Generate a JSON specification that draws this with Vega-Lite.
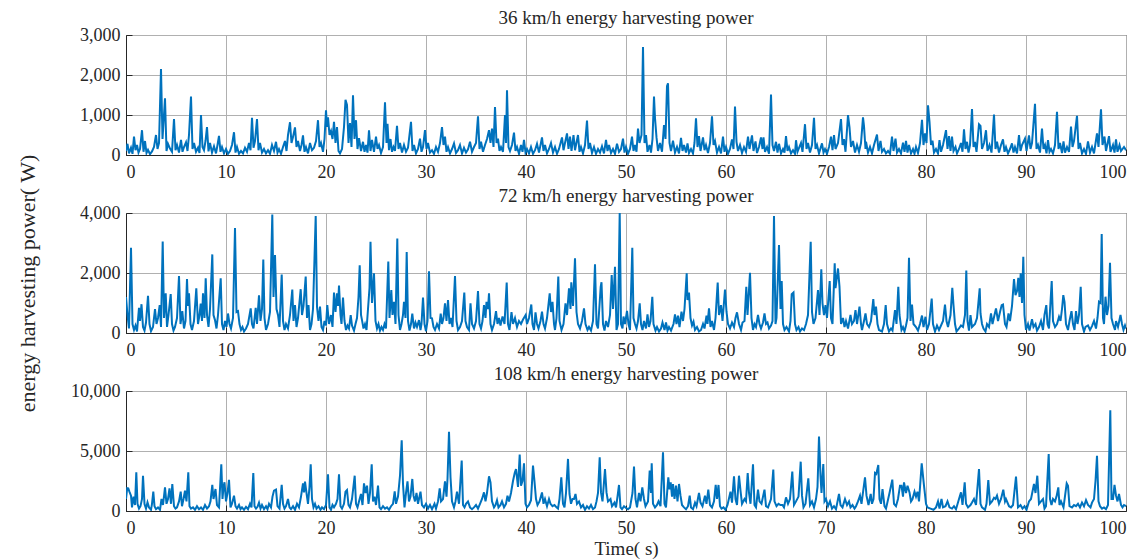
{
"$schema": "https://vega.github.io/schema/vega-lite/v6.json",
"background": "white",
"padding": {"left": 16, "top": 8, "right": 3, "bottom": 3},
"spacing": 58,
"bounds": "flush",
"title": {"text": "energy harvesting power( W)", "orient": "left", "anchor": "middle", "fontSize": 22, "offset": 30, "font": "Liberation Serif", "fontWeight": "normal", "color": "#262626"},
"config": {
"font": "Liberation Serif",
"view": {"stroke": "#262626", "strokeWidth": 1},
"axis": {"labelFont": "Liberation Serif", "labelFontSize": 18, "labelColor": "#262626", "titleFont": "Liberation Serif", "titleFontWeight": "normal", "titleColor": "#262626", "gridColor": "#b0b0b0", "gridWidth": 1, "domainColor": "#262626", "tickColor": "#262626", "tickSize": -6, "labelPadding": 12},
"axisX": {"labelPadding": 14},
"title": {"font": "Liberation Serif", "fontSize": 19, "fontWeight": "normal", "color": "#262626", "offset": -2}
},
"datasets": {
"p36": [
{"t":0,"p":100},{"t":0.15,"p":280},{"t":0.3,"p":40},{"t":0.5,"p":180},{"t":0.65,"p":30},{"t":0.8,"p":460},{"t":0.95,"p":120},{"t":1.1,"p":250},{"t":1.25,"p":60},{"t":1.4,"p":150},{"t":1.6,"p":620},{"t":1.75,"p":80},{"t":1.9,"p":350},{"t":2.05,"p":50},{"t":2.2,"p":130},{"t":2.4,"p":20},{"t":2.6,"p":90},{"t":2.8,"p":200},{"t":3.0,"p":500},{"t":3.15,"p":150},{"t":3.3,"p":300},{"t":3.5,"p":2150},{"t":3.65,"p":400},{"t":3.9,"p":1420},{"t":4.05,"p":100},{"t":4.2,"p":280},{"t":4.4,"p":160},{"t":4.6,"p":80},{"t":4.8,"p":900},{"t":4.95,"p":120},{"t":5.1,"p":250},{"t":5.3,"p":60},{"t":5.5,"p":380},{"t":5.65,"p":80},{"t":5.8,"p":200},{"t":6.0,"p":320},{"t":6.15,"p":100},{"t":6.3,"p":500},{"t":6.5,"p":1460},{"t":6.65,"p":150},{"t":6.8,"p":300},{"t":7.0,"p":80},{"t":7.2,"p":180},{"t":7.35,"p":50},{"t":7.5,"p":1000},{"t":7.65,"p":200},{"t":7.8,"p":120},{"t":7.95,"p":350},{"t":8.1,"p":700},{"t":8.25,"p":90},{"t":8.4,"p":300},{"t":8.6,"p":60},{"t":8.8,"p":220},{"t":9.0,"p":40},{"t":9.15,"p":250},{"t":9.3,"p":480},{"t":9.45,"p":80},{"t":9.6,"p":200},{"t":9.8,"p":40},{"t":10.0,"p":150},{"t":10.2,"p":30},{"t":10.4,"p":100},{"t":10.6,"p":250},{"t":10.8,"p":570},{"t":10.95,"p":60},{"t":11.1,"p":200},{"t":11.3,"p":30},{"t":11.5,"p":100},{"t":11.7,"p":40},{"t":11.9,"p":180},{"t":12.1,"p":80},{"t":12.3,"p":300},{"t":12.45,"p":120},{"t":12.6,"p":930},{"t":12.75,"p":180},{"t":12.9,"p":350},{"t":13.1,"p":900},{"t":13.25,"p":120},{"t":13.4,"p":300},{"t":13.6,"p":60},{"t":13.8,"p":150},{"t":14.0,"p":40},{"t":14.2,"p":120},{"t":14.4,"p":30},{"t":14.6,"p":250},{"t":14.8,"p":100},{"t":15.0,"p":330},{"t":15.15,"p":60},{"t":15.3,"p":150},{"t":15.5,"p":30},{"t":15.7,"p":200},{"t":15.9,"p":350},{"t":16.05,"p":100},{"t":16.2,"p":500},{"t":16.4,"p":820},{"t":16.55,"p":300},{"t":16.7,"p":450},{"t":16.9,"p":690},{"t":17.05,"p":200},{"t":17.2,"p":350},{"t":17.4,"p":100},{"t":17.55,"p":250},{"t":17.7,"p":490},{"t":17.85,"p":80},{"t":18.0,"p":200},{"t":18.2,"p":40},{"t":18.4,"p":300},{"t":18.6,"p":120},{"t":18.8,"p":180},{"t":19.0,"p":350},{"t":19.2,"p":870},{"t":19.35,"p":200},{"t":19.5,"p":300},{"t":19.7,"p":80},{"t":19.85,"p":400},{"t":20.0,"p":1120},{"t":20.1,"p":700},{"t":20.2,"p":940},{"t":20.35,"p":500},{"t":20.5,"p":600},{"t":20.65,"p":400},{"t":20.8,"p":830},{"t":20.95,"p":300},{"t":21.1,"p":700},{"t":21.25,"p":100},{"t":21.4,"p":40},{"t":21.6,"p":150},{"t":21.8,"p":700},{"t":21.95,"p":1380},{"t":22.1,"p":1250},{"t":22.25,"p":300},{"t":22.4,"p":800},{"t":22.55,"p":200},{"t":22.7,"p":1490},{"t":22.85,"p":400},{"t":23.0,"p":870},{"t":23.15,"p":150},{"t":23.3,"p":420},{"t":23.5,"p":100},{"t":23.7,"p":330},{"t":23.85,"p":80},{"t":24.0,"p":250},{"t":24.15,"p":60},{"t":24.3,"p":620},{"t":24.45,"p":100},{"t":24.6,"p":380},{"t":24.8,"p":80},{"t":25.0,"p":460},{"t":25.15,"p":150},{"t":25.3,"p":250},{"t":25.5,"p":50},{"t":25.7,"p":200},{"t":25.9,"p":1320},{"t":26.05,"p":300},{"t":26.15,"p":780},{"t":26.3,"p":120},{"t":26.45,"p":400},{"t":26.6,"p":80},{"t":26.75,"p":200},{"t":26.9,"p":100},{"t":27.1,"p":730},{"t":27.25,"p":150},{"t":27.4,"p":300},{"t":27.6,"p":60},{"t":27.8,"p":250},{"t":28.0,"p":80},{"t":28.2,"p":180},{"t":28.5,"p":830},{"t":28.65,"p":100},{"t":28.8,"p":250},{"t":29.0,"p":40},{"t":29.2,"p":150},{"t":29.4,"p":410},{"t":29.55,"p":80},{"t":29.7,"p":200},{"t":29.9,"p":620},{"t":30.05,"p":150},{"t":30.2,"p":300},{"t":30.4,"p":60},{"t":30.6,"p":120},{"t":30.8,"p":30},{"t":31.0,"p":200},{"t":31.2,"p":80},{"t":31.4,"p":300},{"t":31.6,"p":700},{"t":31.75,"p":250},{"t":31.9,"p":460},{"t":32.05,"p":80},{"t":32.2,"p":200},{"t":32.4,"p":40},{"t":32.6,"p":150},{"t":32.8,"p":290},{"t":33.0,"p":50},{"t":33.2,"p":120},{"t":33.4,"p":250},{"t":33.6,"p":40},{"t":33.8,"p":180},{"t":34.0,"p":60},{"t":34.2,"p":140},{"t":34.4,"p":330},{"t":34.6,"p":80},{"t":34.8,"p":200},{"t":35.0,"p":300},{"t":35.2,"p":970},{"t":35.35,"p":150},{"t":35.5,"p":330},{"t":35.7,"p":80},{"t":35.9,"p":250},{"t":36.1,"p":400},{"t":36.3,"p":620},{"t":36.45,"p":300},{"t":36.6,"p":660},{"t":36.75,"p":200},{"t":36.9,"p":1200},{"t":37.05,"p":300},{"t":37.2,"p":410},{"t":37.35,"p":100},{"t":37.5,"p":200},{"t":37.7,"p":80},{"t":37.9,"p":1000},{"t":38.0,"p":300},{"t":38.1,"p":1620},{"t":38.25,"p":200},{"t":38.4,"p":100},{"t":38.6,"p":250},{"t":38.8,"p":560},{"t":38.95,"p":100},{"t":39.1,"p":200},{"t":39.3,"p":30},{"t":39.5,"p":250},{"t":39.65,"p":80},{"t":39.8,"p":380},{"t":39.95,"p":60},{"t":40.1,"p":150},{"t":40.3,"p":40},{"t":40.5,"p":200},{"t":40.7,"p":30},{"t":40.9,"p":120},{"t":41.1,"p":280},{"t":41.3,"p":60},{"t":41.6,"p":440},{"t":41.75,"p":100},{"t":41.9,"p":250},{"t":42.1,"p":40},{"t":42.3,"p":150},{"t":42.5,"p":300},{"t":42.7,"p":60},{"t":42.9,"p":200},{"t":43.1,"p":30},{"t":43.3,"p":150},{"t":43.6,"p":440},{"t":43.75,"p":120},{"t":43.9,"p":300},{"t":44.1,"p":540},{"t":44.25,"p":150},{"t":44.4,"p":460},{"t":44.55,"p":100},{"t":44.75,"p":500},{"t":44.9,"p":120},{"t":45.0,"p":250},{"t":45.2,"p":500},{"t":45.35,"p":80},{"t":45.5,"p":200},{"t":45.7,"p":40},{"t":45.9,"p":250},{"t":46.1,"p":860},{"t":46.25,"p":150},{"t":46.4,"p":300},{"t":46.6,"p":50},{"t":46.8,"p":200},{"t":47.0,"p":30},{"t":47.2,"p":150},{"t":47.4,"p":60},{"t":47.6,"p":220},{"t":47.8,"p":40},{"t":48.0,"p":380},{"t":48.15,"p":100},{"t":48.3,"p":250},{"t":48.5,"p":50},{"t":48.7,"p":150},{"t":48.9,"p":30},{"t":49.1,"p":280},{"t":49.3,"p":80},{"t":49.5,"p":150},{"t":49.7,"p":410},{"t":49.85,"p":60},{"t":50.0,"p":200},{"t":50.2,"p":30},{"t":50.4,"p":150},{"t":50.6,"p":460},{"t":50.75,"p":100},{"t":50.9,"p":250},{"t":51.05,"p":80},{"t":51.2,"p":660},{"t":51.35,"p":300},{"t":51.55,"p":500},{"t":51.7,"p":2700},{"t":51.85,"p":300},{"t":52.0,"p":500},{"t":52.15,"p":80},{"t":52.35,"p":250},{"t":52.5,"p":60},{"t":52.65,"p":400},{"t":52.8,"p":1460},{"t":52.9,"p":920},{"t":53.05,"p":440},{"t":53.2,"p":100},{"t":53.4,"p":300},{"t":53.6,"p":80},{"t":53.8,"p":750},{"t":53.95,"p":400},{"t":54.1,"p":1720},{"t":54.2,"p":1790},{"t":54.35,"p":300},{"t":54.5,"p":100},{"t":54.7,"p":360},{"t":54.9,"p":60},{"t":55.1,"p":200},{"t":55.3,"p":40},{"t":55.5,"p":430},{"t":55.65,"p":100},{"t":55.8,"p":250},{"t":56.0,"p":60},{"t":56.15,"p":290},{"t":56.3,"p":50},{"t":56.5,"p":150},{"t":56.7,"p":40},{"t":56.85,"p":300},{"t":57.0,"p":920},{"t":57.15,"p":200},{"t":57.3,"p":470},{"t":57.45,"p":100},{"t":57.7,"p":440},{"t":57.85,"p":120},{"t":58.0,"p":250},{"t":58.2,"p":50},{"t":58.4,"p":300},{"t":58.6,"p":970},{"t":58.75,"p":250},{"t":58.9,"p":350},{"t":59.1,"p":60},{"t":59.3,"p":200},{"t":59.5,"p":40},{"t":59.7,"p":460},{"t":59.85,"p":80},{"t":60.0,"p":200},{"t":60.2,"p":30},{"t":60.4,"p":150},{"t":60.6,"p":390},{"t":60.75,"p":150},{"t":60.9,"p":1210},{"t":61.05,"p":330},{"t":61.2,"p":100},{"t":61.4,"p":250},{"t":61.6,"p":50},{"t":61.8,"p":200},{"t":62.0,"p":80},{"t":62.2,"p":460},{"t":62.35,"p":150},{"t":62.6,"p":490},{"t":62.75,"p":100},{"t":62.95,"p":340},{"t":63.1,"p":50},{"t":63.3,"p":200},{"t":63.5,"p":440},{"t":63.65,"p":150},{"t":63.75,"p":440},{"t":63.9,"p":80},{"t":64.1,"p":200},{"t":64.3,"p":30},{"t":64.5,"p":1510},{"t":64.65,"p":250},{"t":64.8,"p":100},{"t":65.0,"p":330},{"t":65.15,"p":60},{"t":65.3,"p":280},{"t":65.5,"p":40},{"t":65.7,"p":150},{"t":65.85,"p":60},{"t":66.0,"p":470},{"t":66.15,"p":100},{"t":66.3,"p":200},{"t":66.5,"p":40},{"t":66.7,"p":120},{"t":66.9,"p":30},{"t":67.0,"p":370},{"t":67.15,"p":80},{"t":67.5,"p":300},{"t":67.65,"p":80},{"t":67.9,"p":770},{"t":68.05,"p":150},{"t":68.2,"p":300},{"t":68.4,"p":60},{"t":68.6,"p":250},{"t":68.8,"p":930},{"t":68.95,"p":150},{"t":69.1,"p":250},{"t":69.3,"p":40},{"t":69.6,"p":290},{"t":69.75,"p":60},{"t":69.9,"p":150},{"t":70.1,"p":30},{"t":70.3,"p":200},{"t":70.5,"p":460},{"t":70.65,"p":120},{"t":70.8,"p":500},{"t":70.95,"p":150},{"t":71.2,"p":300},{"t":71.5,"p":900},{"t":71.65,"p":250},{"t":71.8,"p":400},{"t":71.95,"p":80},{"t":72.2,"p":1000},{"t":72.35,"p":690},{"t":72.5,"p":200},{"t":72.7,"p":350},{"t":72.9,"p":60},{"t":73.1,"p":250},{"t":73.3,"p":80},{"t":73.5,"p":300},{"t":73.7,"p":940},{"t":73.8,"p":720},{"t":73.95,"p":150},{"t":74.0,"p":330},{"t":74.2,"p":60},{"t":74.4,"p":200},{"t":74.6,"p":40},{"t":74.8,"p":250},{"t":75.1,"p":510},{"t":75.25,"p":100},{"t":75.45,"p":350},{"t":75.6,"p":80},{"t":75.8,"p":150},{"t":76.0,"p":40},{"t":76.2,"p":100},{"t":76.4,"p":30},{"t":76.6,"p":460},{"t":76.75,"p":100},{"t":76.95,"p":410},{"t":77.1,"p":60},{"t":77.3,"p":150},{"t":77.5,"p":40},{"t":77.7,"p":310},{"t":77.85,"p":80},{"t":78.0,"p":350},{"t":78.15,"p":60},{"t":78.3,"p":250},{"t":78.5,"p":40},{"t":78.7,"p":150},{"t":78.85,"p":30},{"t":79.0,"p":200},{"t":79.2,"p":50},{"t":79.4,"p":300},{"t":79.6,"p":880},{"t":79.75,"p":250},{"t":79.9,"p":540},{"t":80.05,"p":300},{"t":80.2,"p":1240},{"t":80.35,"p":830},{"t":80.5,"p":250},{"t":80.65,"p":360},{"t":80.8,"p":60},{"t":81.0,"p":150},{"t":81.2,"p":40},{"t":81.35,"p":370},{"t":81.5,"p":80},{"t":81.7,"p":250},{"t":82.0,"p":620},{"t":82.15,"p":150},{"t":82.3,"p":470},{"t":82.45,"p":100},{"t":82.6,"p":460},{"t":82.75,"p":100},{"t":82.95,"p":200},{"t":83.1,"p":40},{"t":83.3,"p":150},{"t":83.5,"p":300},{"t":83.65,"p":80},{"t":83.8,"p":640},{"t":83.95,"p":150},{"t":84.1,"p":330},{"t":84.25,"p":60},{"t":84.4,"p":250},{"t":84.6,"p":1150},{"t":84.75,"p":200},{"t":84.9,"p":330},{"t":85.05,"p":80},{"t":85.3,"p":770},{"t":85.45,"p":730},{"t":85.6,"p":150},{"t":85.8,"p":300},{"t":86.0,"p":620},{"t":86.15,"p":100},{"t":86.35,"p":250},{"t":86.55,"p":60},{"t":86.8,"p":1010},{"t":86.95,"p":150},{"t":87.1,"p":330},{"t":87.3,"p":60},{"t":87.5,"p":250},{"t":87.7,"p":390},{"t":87.85,"p":80},{"t":88.0,"p":200},{"t":88.2,"p":40},{"t":88.4,"p":150},{"t":88.6,"p":290},{"t":88.75,"p":60},{"t":88.9,"p":200},{"t":89.1,"p":40},{"t":89.3,"p":500},{"t":89.45,"p":100},{"t":89.6,"p":250},{"t":89.9,"p":410},{"t":90.05,"p":100},{"t":90.3,"p":490},{"t":90.45,"p":150},{"t":90.6,"p":300},{"t":90.9,"p":1280},{"t":91.05,"p":150},{"t":91.2,"p":250},{"t":91.4,"p":60},{"t":91.6,"p":660},{"t":91.75,"p":150},{"t":91.9,"p":250},{"t":92.05,"p":40},{"t":92.2,"p":370},{"t":92.35,"p":80},{"t":92.5,"p":150},{"t":92.7,"p":40},{"t":92.9,"p":250},{"t":93.1,"p":1080},{"t":93.25,"p":150},{"t":93.4,"p":300},{"t":93.6,"p":50},{"t":93.75,"p":340},{"t":93.9,"p":60},{"t":94.1,"p":200},{"t":94.3,"p":80},{"t":94.5,"p":710},{"t":94.65,"p":200},{"t":94.8,"p":350},{"t":95.1,"p":980},{"t":95.25,"p":150},{"t":95.4,"p":300},{"t":95.6,"p":40},{"t":95.8,"p":150},{"t":96.0,"p":30},{"t":96.2,"p":340},{"t":96.4,"p":60},{"t":96.6,"p":200},{"t":96.8,"p":40},{"t":97.1,"p":540},{"t":97.25,"p":200},{"t":97.5,"p":1140},{"t":97.65,"p":250},{"t":97.85,"p":460},{"t":98.0,"p":100},{"t":98.3,"p":470},{"t":98.45,"p":80},{"t":98.7,"p":250},{"t":98.85,"p":60},{"t":99.0,"p":390},{"t":99.15,"p":80},{"t":99.35,"p":250},{"t":99.5,"p":100},{"t":99.8,"p":200},{"t":100,"p":120}
],
"p72": [
{"t":0,"p":1200},{"t":0.15,"p":600},{"t":0.3,"p":150},{"t":0.5,"p":2840},{"t":0.65,"p":300},{"t":0.8,"p":100},{"t":0.95,"p":250},{"t":1.1,"p":50},{"t":1.3,"p":840},{"t":1.4,"p":400},{"t":1.55,"p":960},{"t":1.7,"p":200},{"t":1.85,"p":80},{"t":2.0,"p":350},{"t":2.2,"p":1240},{"t":2.35,"p":300},{"t":2.5,"p":60},{"t":2.7,"p":200},{"t":2.9,"p":800},{"t":3.05,"p":300},{"t":3.2,"p":500},{"t":3.37,"p":930},{"t":3.5,"p":200},{"t":3.67,"p":3050},{"t":3.8,"p":500},{"t":3.97,"p":1320},{"t":4.1,"p":200},{"t":4.25,"p":600},{"t":4.47,"p":1300},{"t":4.6,"p":300},{"t":4.75,"p":80},{"t":4.9,"p":200},{"t":5.1,"p":500},{"t":5.3,"p":1900},{"t":5.45,"p":300},{"t":5.63,"p":730},{"t":5.8,"p":150},{"t":5.95,"p":400},{"t":6.1,"p":1800},{"t":6.2,"p":900},{"t":6.3,"p":1320},{"t":6.45,"p":300},{"t":6.6,"p":100},{"t":6.8,"p":400},{"t":7.03,"p":1490},{"t":7.2,"p":300},{"t":7.35,"p":600},{"t":7.47,"p":980},{"t":7.6,"p":400},{"t":7.7,"p":1320},{"t":7.85,"p":500},{"t":7.97,"p":1820},{"t":8.1,"p":600},{"t":8.25,"p":200},{"t":8.4,"p":800},{"t":8.63,"p":2620},{"t":8.75,"p":600},{"t":8.9,"p":430},{"t":9.05,"p":150},{"t":9.2,"p":600},{"t":9.47,"p":1820},{"t":9.6,"p":300},{"t":9.75,"p":100},{"t":9.9,"p":400},{"t":10.05,"p":200},{"t":10.2,"p":650},{"t":10.35,"p":300},{"t":10.5,"p":150},{"t":10.7,"p":500},{"t":10.9,"p":3500},{"t":11.05,"p":700},{"t":11.2,"p":730},{"t":11.35,"p":300},{"t":11.5,"p":100},{"t":11.65,"p":200},{"t":11.8,"p":50},{"t":12.0,"p":150},{"t":12.2,"p":300},{"t":12.47,"p":820},{"t":12.6,"p":300},{"t":12.75,"p":150},{"t":12.97,"p":840},{"t":13.1,"p":300},{"t":13.3,"p":1260},{"t":13.45,"p":400},{"t":13.6,"p":800},{"t":13.73,"p":2450},{"t":13.85,"p":500},{"t":14.0,"p":100},{"t":14.2,"p":300},{"t":14.4,"p":700},{"t":14.63,"p":3950},{"t":14.75,"p":1200},{"t":14.9,"p":2600},{"t":15.05,"p":800},{"t":15.2,"p":600},{"t":15.35,"p":200},{"t":15.57,"p":1950},{"t":15.7,"p":400},{"t":15.85,"p":100},{"t":16.0,"p":300},{"t":16.2,"p":150},{"t":16.4,"p":600},{"t":16.63,"p":1450},{"t":16.75,"p":400},{"t":16.9,"p":930},{"t":17.05,"p":200},{"t":17.2,"p":500},{"t":17.47,"p":1460},{"t":17.6,"p":600},{"t":17.75,"p":900},{"t":17.97,"p":1880},{"t":18.1,"p":500},{"t":18.25,"p":930},{"t":18.4,"p":100},{"t":18.55,"p":300},{"t":18.7,"p":800},{"t":18.85,"p":2500},{"t":18.97,"p":3900},{"t":19.1,"p":880},{"t":19.25,"p":400},{"t":19.4,"p":880},{"t":19.55,"p":200},{"t":19.7,"p":100},{"t":19.85,"p":400},{"t":20.0,"p":250},{"t":20.13,"p":930},{"t":20.3,"p":300},{"t":20.5,"p":600},{"t":20.65,"p":200},{"t":20.8,"p":1350},{"t":20.95,"p":700},{"t":21.1,"p":1320},{"t":21.2,"p":900},{"t":21.3,"p":1580},{"t":21.45,"p":600},{"t":21.55,"p":300},{"t":21.7,"p":1180},{"t":21.85,"p":400},{"t":22.0,"p":100},{"t":22.15,"p":250},{"t":22.3,"p":150},{"t":22.47,"p":600},{"t":22.6,"p":250},{"t":22.8,"p":80},{"t":22.95,"p":300},{"t":23.1,"p":500},{"t":23.25,"p":1200},{"t":23.37,"p":2260},{"t":23.5,"p":600},{"t":23.6,"p":430},{"t":23.75,"p":150},{"t":23.9,"p":300},{"t":24.05,"p":100},{"t":24.2,"p":800},{"t":24.35,"p":1500},{"t":24.45,"p":3040},{"t":24.6,"p":1000},{"t":24.8,"p":1990},{"t":24.95,"p":400},{"t":25.1,"p":150},{"t":25.25,"p":300},{"t":25.4,"p":80},{"t":25.55,"p":200},{"t":25.7,"p":100},{"t":25.85,"p":300},{"t":26.0,"p":150},{"t":26.23,"p":2380},{"t":26.35,"p":500},{"t":26.53,"p":1430},{"t":26.65,"p":600},{"t":26.8,"p":1040},{"t":26.95,"p":300},{"t":27.13,"p":3150},{"t":27.25,"p":600},{"t":27.4,"p":100},{"t":27.55,"p":300},{"t":27.7,"p":600},{"t":27.8,"p":1040},{"t":27.95,"p":500},{"t":28.07,"p":2700},{"t":28.2,"p":400},{"t":28.35,"p":80},{"t":28.5,"p":300},{"t":28.63,"p":650},{"t":28.8,"p":150},{"t":28.95,"p":350},{"t":29.1,"p":200},{"t":29.3,"p":430},{"t":29.45,"p":100},{"t":29.55,"p":300},{"t":29.7,"p":1180},{"t":29.85,"p":300},{"t":30.0,"p":60},{"t":30.15,"p":400},{"t":30.3,"p":2060},{"t":30.45,"p":500},{"t":30.6,"p":490},{"t":30.75,"p":200},{"t":30.9,"p":100},{"t":31.1,"p":300},{"t":31.3,"p":150},{"t":31.47,"p":650},{"t":31.6,"p":300},{"t":31.75,"p":500},{"t":31.9,"p":990},{"t":32.05,"p":400},{"t":32.2,"p":1100},{"t":32.35,"p":300},{"t":32.5,"p":500},{"t":32.65,"p":200},{"t":32.9,"p":1900},{"t":33.05,"p":400},{"t":33.2,"p":100},{"t":33.4,"p":200},{"t":33.6,"p":400},{"t":33.83,"p":1350},{"t":33.95,"p":400},{"t":34.1,"p":200},{"t":34.3,"p":100},{"t":34.45,"p":990},{"t":34.6,"p":300},{"t":34.8,"p":150},{"t":35.0,"p":400},{"t":35.2,"p":1400},{"t":35.35,"p":300},{"t":35.5,"p":150},{"t":35.65,"p":400},{"t":35.8,"p":930},{"t":35.95,"p":500},{"t":36.05,"p":1040},{"t":36.2,"p":800},{"t":36.3,"p":1320},{"t":36.45,"p":300},{"t":36.6,"p":100},{"t":36.8,"p":300},{"t":37.0,"p":730},{"t":37.15,"p":300},{"t":37.3,"p":500},{"t":37.45,"p":250},{"t":37.65,"p":550},{"t":37.85,"p":300},{"t":38.07,"p":1680},{"t":38.2,"p":300},{"t":38.35,"p":100},{"t":38.55,"p":700},{"t":38.7,"p":300},{"t":38.9,"p":500},{"t":39.1,"p":200},{"t":39.3,"p":400},{"t":39.5,"p":300},{"t":39.7,"p":450},{"t":39.97,"p":600},{"t":40.1,"p":300},{"t":40.3,"p":500},{"t":40.53,"p":950},{"t":40.65,"p":300},{"t":40.8,"p":100},{"t":40.95,"p":690},{"t":41.1,"p":300},{"t":41.25,"p":150},{"t":41.45,"p":400},{"t":41.6,"p":710},{"t":41.75,"p":300},{"t":41.9,"p":150},{"t":42.1,"p":500},{"t":42.37,"p":1320},{"t":42.5,"p":700},{"t":42.65,"p":1040},{"t":42.8,"p":300},{"t":42.9,"p":100},{"t":43.05,"p":500},{"t":43.23,"p":1880},{"t":43.35,"p":400},{"t":43.55,"p":100},{"t":43.75,"p":300},{"t":43.95,"p":990},{"t":44.1,"p":600},{"t":44.3,"p":1490},{"t":44.45,"p":800},{"t":44.53,"p":1690},{"t":44.7,"p":900},{"t":44.9,"p":2490},{"t":45.05,"p":700},{"t":45.2,"p":300},{"t":45.4,"p":150},{"t":45.6,"p":400},{"t":45.8,"p":820},{"t":45.95,"p":300},{"t":46.15,"p":100},{"t":46.3,"p":200},{"t":46.5,"p":80},{"t":46.7,"p":400},{"t":46.9,"p":2290},{"t":47.05,"p":300},{"t":47.2,"p":150},{"t":47.47,"p":1540},{"t":47.55,"p":1690},{"t":47.7,"p":300},{"t":47.85,"p":80},{"t":48.0,"p":400},{"t":48.2,"p":200},{"t":48.4,"p":600},{"t":48.57,"p":1930},{"t":48.7,"p":800},{"t":48.9,"p":2210},{"t":49.05,"p":100},{"t":49.2,"p":300},{"t":49.37,"p":4000},{"t":49.5,"p":300},{"t":49.65,"p":150},{"t":49.75,"p":550},{"t":49.9,"p":300},{"t":50.1,"p":740},{"t":50.25,"p":300},{"t":50.4,"p":100},{"t":50.63,"p":2840},{"t":50.75,"p":500},{"t":50.9,"p":300},{"t":51.05,"p":150},{"t":51.2,"p":400},{"t":51.37,"p":990},{"t":51.5,"p":300},{"t":51.65,"p":100},{"t":51.8,"p":400},{"t":52.0,"p":150},{"t":52.15,"p":620},{"t":52.3,"p":200},{"t":52.45,"p":400},{"t":52.63,"p":1210},{"t":52.75,"p":300},{"t":52.95,"p":80},{"t":53.1,"p":200},{"t":53.3,"p":50},{"t":53.5,"p":150},{"t":53.65,"p":350},{"t":53.85,"p":100},{"t":54.0,"p":350},{"t":54.15,"p":80},{"t":54.3,"p":200},{"t":54.5,"p":80},{"t":54.75,"p":300},{"t":54.9,"p":620},{"t":55.05,"p":300},{"t":55.2,"p":580},{"t":55.35,"p":200},{"t":55.55,"p":710},{"t":55.7,"p":400},{"t":55.85,"p":800},{"t":56.07,"p":1990},{"t":56.15,"p":1100},{"t":56.3,"p":1350},{"t":56.45,"p":500},{"t":56.6,"p":250},{"t":56.75,"p":380},{"t":56.9,"p":100},{"t":57.1,"p":200},{"t":57.3,"p":50},{"t":57.5,"p":100},{"t":57.7,"p":300},{"t":57.85,"p":150},{"t":58.05,"p":580},{"t":58.15,"p":300},{"t":58.3,"p":820},{"t":58.45,"p":200},{"t":58.6,"p":400},{"t":58.8,"p":100},{"t":58.95,"p":500},{"t":59.17,"p":1680},{"t":59.3,"p":600},{"t":59.5,"p":930},{"t":59.65,"p":400},{"t":59.9,"p":1450},{"t":60.05,"p":710},{"t":60.2,"p":300},{"t":60.4,"p":150},{"t":60.6,"p":350},{"t":60.8,"p":200},{"t":60.95,"p":500},{"t":61.1,"p":690},{"t":61.3,"p":300},{"t":61.5,"p":100},{"t":61.65,"p":350},{"t":61.85,"p":400},{"t":62.03,"p":1540},{"t":62.15,"p":600},{"t":62.4,"p":2010},{"t":62.55,"p":500},{"t":62.7,"p":100},{"t":62.85,"p":300},{"t":63.0,"p":200},{"t":63.2,"p":600},{"t":63.35,"p":300},{"t":63.5,"p":150},{"t":63.7,"p":350},{"t":63.85,"p":650},{"t":64.0,"p":300},{"t":64.15,"p":350},{"t":64.3,"p":150},{"t":64.5,"p":250},{"t":64.65,"p":400},{"t":64.8,"p":3900},{"t":64.95,"p":300},{"t":65.05,"p":500},{"t":65.3,"p":2930},{"t":65.45,"p":800},{"t":65.57,"p":1730},{"t":65.7,"p":300},{"t":65.85,"p":100},{"t":66.05,"p":200},{"t":66.3,"p":50},{"t":66.45,"p":400},{"t":66.57,"p":1290},{"t":66.75,"p":1350},{"t":66.9,"p":300},{"t":67.05,"p":100},{"t":67.25,"p":200},{"t":67.4,"p":50},{"t":67.6,"p":150},{"t":67.8,"p":100},{"t":68.0,"p":300},{"t":68.2,"p":600},{"t":68.47,"p":3040},{"t":68.6,"p":700},{"t":68.75,"p":300},{"t":68.95,"p":500},{"t":69.2,"p":1430},{"t":69.35,"p":600},{"t":69.53,"p":2120},{"t":69.65,"p":990},{"t":69.8,"p":600},{"t":69.95,"p":930},{"t":70.1,"p":500},{"t":70.37,"p":1730},{"t":70.5,"p":500},{"t":70.65,"p":300},{"t":70.87,"p":2320},{"t":70.95,"p":1500},{"t":71.2,"p":2150},{"t":71.35,"p":1540},{"t":71.5,"p":300},{"t":71.7,"p":500},{"t":71.85,"p":200},{"t":72.0,"p":400},{"t":72.2,"p":150},{"t":72.45,"p":600},{"t":72.6,"p":300},{"t":72.8,"p":400},{"t":72.95,"p":760},{"t":73.1,"p":300},{"t":73.35,"p":880},{"t":73.5,"p":300},{"t":73.6,"p":100},{"t":73.8,"p":400},{"t":73.95,"p":650},{"t":74.1,"p":300},{"t":74.3,"p":200},{"t":74.5,"p":400},{"t":74.73,"p":1130},{"t":74.85,"p":600},{"t":75.0,"p":880},{"t":75.15,"p":300},{"t":75.3,"p":100},{"t":75.6,"p":50},{"t":75.8,"p":300},{"t":75.97,"p":930},{"t":76.1,"p":300},{"t":76.3,"p":50},{"t":76.5,"p":150},{"t":76.65,"p":80},{"t":76.9,"p":760},{"t":77.05,"p":300},{"t":77.23,"p":1540},{"t":77.35,"p":600},{"t":77.55,"p":100},{"t":77.7,"p":200},{"t":77.85,"p":50},{"t":78.0,"p":250},{"t":78.15,"p":500},{"t":78.3,"p":2510},{"t":78.45,"p":400},{"t":78.6,"p":950},{"t":78.75,"p":300},{"t":79.0,"p":200},{"t":79.2,"p":80},{"t":79.4,"p":300},{"t":79.6,"p":580},{"t":79.75,"p":200},{"t":79.95,"p":540},{"t":80.1,"p":100},{"t":80.3,"p":300},{"t":80.57,"p":1150},{"t":80.7,"p":300},{"t":80.9,"p":50},{"t":81.1,"p":250},{"t":81.3,"p":100},{"t":81.5,"p":250},{"t":81.7,"p":400},{"t":81.9,"p":950},{"t":82.05,"p":400},{"t":82.2,"p":200},{"t":82.45,"p":600},{"t":82.63,"p":1510},{"t":82.75,"p":930},{"t":82.9,"p":300},{"t":83.05,"p":50},{"t":83.3,"p":150},{"t":83.5,"p":250},{"t":83.7,"p":200},{"t":83.9,"p":600},{"t":84.03,"p":2080},{"t":84.15,"p":400},{"t":84.3,"p":80},{"t":84.45,"p":600},{"t":84.6,"p":200},{"t":84.9,"p":300},{"t":85.1,"p":500},{"t":85.37,"p":1490},{"t":85.45,"p":650},{"t":85.6,"p":300},{"t":85.75,"p":150},{"t":85.95,"p":50},{"t":86.1,"p":300},{"t":86.3,"p":200},{"t":86.5,"p":650},{"t":86.65,"p":300},{"t":86.85,"p":600},{"t":87.0,"p":820},{"t":87.2,"p":400},{"t":87.4,"p":700},{"t":87.57,"p":930},{"t":87.7,"p":950},{"t":87.9,"p":300},{"t":88.05,"p":200},{"t":88.25,"p":650},{"t":88.4,"p":400},{"t":88.6,"p":900},{"t":88.8,"p":1800},{"t":88.95,"p":1260},{"t":89.1,"p":1400},{"t":89.23,"p":1840},{"t":89.35,"p":1200},{"t":89.47,"p":1990},{"t":89.6,"p":1000},{"t":89.73,"p":2540},{"t":89.85,"p":600},{"t":90.0,"p":100},{"t":90.2,"p":300},{"t":90.35,"p":80},{"t":90.6,"p":460},{"t":90.75,"p":200},{"t":90.95,"p":300},{"t":91.1,"p":80},{"t":91.3,"p":200},{"t":91.5,"p":400},{"t":91.7,"p":100},{"t":91.85,"p":600},{"t":92.03,"p":930},{"t":92.15,"p":300},{"t":92.3,"p":150},{"t":92.57,"p":1730},{"t":92.7,"p":400},{"t":92.9,"p":200},{"t":93.1,"p":300},{"t":93.3,"p":540},{"t":93.45,"p":400},{"t":93.6,"p":800},{"t":93.73,"p":1260},{"t":93.85,"p":1040},{"t":94.0,"p":300},{"t":94.2,"p":100},{"t":94.35,"p":400},{"t":94.55,"p":730},{"t":94.7,"p":300},{"t":94.85,"p":100},{"t":95.0,"p":730},{"t":95.15,"p":300},{"t":95.3,"p":600},{"t":95.47,"p":1540},{"t":95.6,"p":300},{"t":95.8,"p":50},{"t":95.95,"p":200},{"t":96.2,"p":250},{"t":96.4,"p":100},{"t":96.6,"p":230},{"t":96.8,"p":400},{"t":97.0,"p":150},{"t":97.15,"p":500},{"t":97.3,"p":1040},{"t":97.45,"p":1000},{"t":97.57,"p":3300},{"t":97.7,"p":500},{"t":97.8,"p":300},{"t":97.95,"p":1210},{"t":98.1,"p":600},{"t":98.25,"p":900},{"t":98.4,"p":2340},{"t":98.55,"p":500},{"t":98.7,"p":300},{"t":98.9,"p":100},{"t":99.0,"p":400},{"t":99.2,"p":200},{"t":99.45,"p":600},{"t":99.6,"p":300},{"t":99.75,"p":100},{"t":99.9,"p":250},{"t":100,"p":150}
],
"p108": [
{"t":0,"p":1000},{"t":0.12,"p":1900},{"t":0.23,"p":1890},{"t":0.35,"p":1600},{"t":0.5,"p":1280},{"t":0.6,"p":300},{"t":0.75,"p":1200},{"t":0.9,"p":500},{"t":1.03,"p":3220},{"t":1.15,"p":600},{"t":1.3,"p":200},{"t":1.45,"p":400},{"t":1.6,"p":1000},{"t":1.7,"p":2940},{"t":1.85,"p":580},{"t":2.0,"p":200},{"t":2.15,"p":720},{"t":2.3,"p":300},{"t":2.5,"p":100},{"t":2.6,"p":600},{"t":2.73,"p":1610},{"t":2.85,"p":400},{"t":3.0,"p":150},{"t":3.2,"p":300},{"t":3.4,"p":100},{"t":3.55,"p":1000},{"t":3.7,"p":500},{"t":3.9,"p":1970},{"t":4.05,"p":600},{"t":4.2,"p":1000},{"t":4.35,"p":1890},{"t":4.5,"p":600},{"t":4.63,"p":2250},{"t":4.8,"p":400},{"t":4.95,"p":200},{"t":5.1,"p":300},{"t":5.3,"p":800},{"t":5.47,"p":1610},{"t":5.6,"p":400},{"t":5.75,"p":1000},{"t":5.9,"p":1690},{"t":6.05,"p":800},{"t":6.23,"p":3220},{"t":6.35,"p":400},{"t":6.5,"p":200},{"t":6.7,"p":300},{"t":6.9,"p":100},{"t":7.1,"p":400},{"t":7.3,"p":150},{"t":7.5,"p":300},{"t":7.7,"p":100},{"t":7.9,"p":500},{"t":8.1,"p":200},{"t":8.3,"p":400},{"t":8.45,"p":800},{"t":8.63,"p":2170},{"t":8.75,"p":1000},{"t":8.95,"p":1830},{"t":9.1,"p":500},{"t":9.3,"p":300},{"t":9.53,"p":3890},{"t":9.65,"p":1000},{"t":9.75,"p":2000},{"t":9.85,"p":2390},{"t":10.0,"p":800},{"t":10.15,"p":1500},{"t":10.3,"p":2590},{"t":10.45,"p":300},{"t":10.6,"p":600},{"t":10.8,"p":1280},{"t":10.95,"p":400},{"t":11.1,"p":200},{"t":11.3,"p":500},{"t":11.45,"p":150},{"t":11.6,"p":300},{"t":11.8,"p":100},{"t":12.0,"p":350},{"t":12.2,"p":150},{"t":12.4,"p":600},{"t":12.55,"p":300},{"t":12.73,"p":3170},{"t":12.85,"p":400},{"t":13.0,"p":200},{"t":13.15,"p":350},{"t":13.3,"p":700},{"t":13.45,"p":200},{"t":13.6,"p":500},{"t":13.8,"p":150},{"t":14.0,"p":400},{"t":14.15,"p":150},{"t":14.3,"p":600},{"t":14.5,"p":300},{"t":14.65,"p":1200},{"t":14.8,"p":1700},{"t":15.0,"p":1780},{"t":15.15,"p":400},{"t":15.35,"p":200},{"t":15.57,"p":2190},{"t":15.7,"p":600},{"t":15.85,"p":200},{"t":16.0,"p":400},{"t":16.2,"p":1000},{"t":16.35,"p":300},{"t":16.5,"p":150},{"t":16.7,"p":400},{"t":16.9,"p":100},{"t":17.1,"p":600},{"t":17.3,"p":300},{"t":17.5,"p":1200},{"t":17.7,"p":2300},{"t":17.8,"p":1550},{"t":17.9,"p":2450},{"t":18.05,"p":1500},{"t":18.2,"p":600},{"t":18.35,"p":2000},{"t":18.47,"p":3890},{"t":18.6,"p":1000},{"t":18.75,"p":300},{"t":18.9,"p":600},{"t":19.05,"p":200},{"t":19.25,"p":400},{"t":19.45,"p":100},{"t":19.6,"p":300},{"t":19.8,"p":150},{"t":20.0,"p":500},{"t":20.2,"p":3060},{"t":20.35,"p":300},{"t":20.5,"p":100},{"t":20.65,"p":500},{"t":20.8,"p":300},{"t":21.0,"p":600},{"t":21.15,"p":1000},{"t":21.3,"p":3060},{"t":21.45,"p":400},{"t":21.6,"p":200},{"t":21.8,"p":600},{"t":21.95,"p":1610},{"t":22.1,"p":1750},{"t":22.25,"p":500},{"t":22.4,"p":300},{"t":22.6,"p":1000},{"t":22.87,"p":2940},{"t":23.0,"p":600},{"t":23.15,"p":300},{"t":23.3,"p":800},{"t":23.5,"p":1420},{"t":23.65,"p":500},{"t":23.8,"p":2300},{"t":23.95,"p":1500},{"t":24.1,"p":2110},{"t":24.25,"p":600},{"t":24.4,"p":1500},{"t":24.57,"p":3900},{"t":24.7,"p":800},{"t":24.85,"p":1200},{"t":25.0,"p":500},{"t":25.2,"p":2110},{"t":25.35,"p":300},{"t":25.5,"p":150},{"t":25.7,"p":400},{"t":25.9,"p":200},{"t":26.1,"p":300},{"t":26.3,"p":100},{"t":26.5,"p":400},{"t":26.7,"p":600},{"t":26.87,"p":1640},{"t":27.0,"p":600},{"t":27.2,"p":1200},{"t":27.4,"p":2940},{"t":27.57,"p":5900},{"t":27.7,"p":2250},{"t":27.85,"p":300},{"t":28.0,"p":1500},{"t":28.15,"p":2470},{"t":28.3,"p":800},{"t":28.45,"p":1200},{"t":28.63,"p":2670},{"t":28.75,"p":1280},{"t":28.9,"p":800},{"t":29.05,"p":1500},{"t":29.2,"p":600},{"t":29.45,"p":1610},{"t":29.6,"p":500},{"t":29.8,"p":300},{"t":30.0,"p":600},{"t":30.2,"p":200},{"t":30.4,"p":500},{"t":30.6,"p":150},{"t":30.85,"p":600},{"t":31.0,"p":200},{"t":31.2,"p":800},{"t":31.37,"p":1890},{"t":31.5,"p":800},{"t":31.7,"p":1000},{"t":31.9,"p":2470},{"t":32.05,"p":1200},{"t":32.15,"p":2670},{"t":32.3,"p":6600},{"t":32.45,"p":2810},{"t":32.6,"p":800},{"t":32.8,"p":300},{"t":32.95,"p":800},{"t":33.1,"p":1610},{"t":33.3,"p":600},{"t":33.57,"p":4200},{"t":33.7,"p":500},{"t":33.85,"p":300},{"t":34.0,"p":600},{"t":34.2,"p":800},{"t":34.4,"p":300},{"t":34.6,"p":150},{"t":34.8,"p":300},{"t":35.0,"p":500},{"t":35.2,"p":200},{"t":35.4,"p":600},{"t":35.6,"p":1000},{"t":35.8,"p":1550},{"t":35.95,"p":800},{"t":36.1,"p":1500},{"t":36.3,"p":2890},{"t":36.45,"p":2390},{"t":36.6,"p":800},{"t":36.8,"p":300},{"t":36.95,"p":500},{"t":37.1,"p":900},{"t":37.25,"p":300},{"t":37.45,"p":500},{"t":37.6,"p":800},{"t":37.8,"p":300},{"t":38.0,"p":600},{"t":38.15,"p":1280},{"t":38.3,"p":800},{"t":38.5,"p":1500},{"t":38.7,"p":2500},{"t":38.87,"p":3170},{"t":39.0,"p":3500},{"t":39.2,"p":2000},{"t":39.37,"p":4700},{"t":39.5,"p":2110},{"t":39.65,"p":2500},{"t":39.8,"p":3970},{"t":39.95,"p":600},{"t":40.1,"p":300},{"t":40.3,"p":500},{"t":40.5,"p":900},{"t":40.7,"p":3780},{"t":40.85,"p":2450},{"t":41.0,"p":1000},{"t":41.15,"p":500},{"t":41.35,"p":800},{"t":41.6,"p":1550},{"t":41.75,"p":600},{"t":41.9,"p":1000},{"t":42.1,"p":400},{"t":42.3,"p":1000},{"t":42.45,"p":600},{"t":42.65,"p":400},{"t":42.85,"p":500},{"t":43.05,"p":300},{"t":43.2,"p":200},{"t":43.35,"p":1000},{"t":43.53,"p":2810},{"t":43.7,"p":600},{"t":43.85,"p":300},{"t":44.0,"p":1500},{"t":44.2,"p":4340},{"t":44.35,"p":1420},{"t":44.5,"p":600},{"t":44.65,"p":1000},{"t":44.8,"p":1000},{"t":44.95,"p":1420},{"t":45.1,"p":600},{"t":45.3,"p":800},{"t":45.5,"p":300},{"t":45.7,"p":500},{"t":45.9,"p":100},{"t":46.1,"p":400},{"t":46.3,"p":200},{"t":46.5,"p":500},{"t":46.7,"p":150},{"t":46.9,"p":300},{"t":47.05,"p":800},{"t":47.2,"p":1500},{"t":47.37,"p":4480},{"t":47.5,"p":1550},{"t":47.65,"p":800},{"t":47.9,"p":3500},{"t":48.05,"p":1550},{"t":48.2,"p":800},{"t":48.45,"p":1000},{"t":48.6,"p":400},{"t":48.85,"p":700},{"t":49.0,"p":300},{"t":49.15,"p":1200},{"t":49.3,"p":2170},{"t":49.45,"p":300},{"t":49.6,"p":150},{"t":49.8,"p":400},{"t":50.0,"p":250},{"t":50.2,"p":150},{"t":50.4,"p":300},{"t":50.65,"p":1500},{"t":50.8,"p":3700},{"t":50.95,"p":1000},{"t":51.1,"p":300},{"t":51.3,"p":1500},{"t":51.45,"p":800},{"t":51.63,"p":1970},{"t":51.8,"p":1000},{"t":51.95,"p":400},{"t":52.2,"p":800},{"t":52.37,"p":3360},{"t":52.5,"p":1500},{"t":52.57,"p":3970},{"t":52.7,"p":600},{"t":52.9,"p":300},{"t":53.1,"p":500},{"t":53.25,"p":800},{"t":53.45,"p":400},{"t":53.7,"p":4890},{"t":53.85,"p":600},{"t":54.0,"p":300},{"t":54.23,"p":2810},{"t":54.35,"p":1800},{"t":54.47,"p":2390},{"t":54.6,"p":1200},{"t":54.7,"p":2250},{"t":54.85,"p":1000},{"t":55.0,"p":2110},{"t":55.15,"p":800},{"t":55.3,"p":2250},{"t":55.45,"p":1280},{"t":55.6,"p":500},{"t":55.8,"p":300},{"t":56.0,"p":150},{"t":56.2,"p":400},{"t":56.37,"p":1280},{"t":56.5,"p":300},{"t":56.7,"p":150},{"t":56.9,"p":700},{"t":57.05,"p":400},{"t":57.3,"p":1500},{"t":57.45,"p":700},{"t":57.65,"p":400},{"t":57.9,"p":1280},{"t":58.05,"p":600},{"t":58.23,"p":1780},{"t":58.4,"p":500},{"t":58.6,"p":300},{"t":58.8,"p":800},{"t":58.97,"p":2170},{"t":59.1,"p":1000},{"t":59.25,"p":2170},{"t":59.4,"p":400},{"t":59.55,"p":200},{"t":59.75,"p":300},{"t":59.95,"p":100},{"t":60.15,"p":500},{"t":60.45,"p":1610},{"t":60.6,"p":700},{"t":60.8,"p":2890},{"t":60.95,"p":1000},{"t":61.1,"p":500},{"t":61.3,"p":2940},{"t":61.45,"p":1690},{"t":61.6,"p":600},{"t":61.85,"p":1000},{"t":62.0,"p":800},{"t":62.17,"p":3170},{"t":62.3,"p":1500},{"t":62.45,"p":600},{"t":62.7,"p":3890},{"t":62.85,"p":500},{"t":63.0,"p":300},{"t":63.2,"p":1780},{"t":63.35,"p":800},{"t":63.55,"p":600},{"t":63.85,"p":1780},{"t":64.0,"p":400},{"t":64.2,"p":300},{"t":64.5,"p":1000},{"t":64.73,"p":3450},{"t":64.85,"p":800},{"t":65.05,"p":400},{"t":65.25,"p":600},{"t":65.45,"p":500},{"t":65.65,"p":500},{"t":65.8,"p":300},{"t":66.0,"p":1140},{"t":66.2,"p":600},{"t":66.4,"p":1000},{"t":66.63,"p":3280},{"t":66.8,"p":500},{"t":67.0,"p":800},{"t":67.25,"p":1200},{"t":67.47,"p":4110},{"t":67.6,"p":1280},{"t":67.75,"p":300},{"t":67.95,"p":600},{"t":68.23,"p":2720},{"t":68.4,"p":500},{"t":68.6,"p":800},{"t":68.8,"p":300},{"t":69.0,"p":1000},{"t":69.15,"p":2000},{"t":69.3,"p":6200},{"t":69.45,"p":2940},{"t":69.55,"p":1500},{"t":69.73,"p":3920},{"t":69.85,"p":800},{"t":70.0,"p":1000},{"t":70.2,"p":400},{"t":70.4,"p":800},{"t":70.6,"p":200},{"t":70.8,"p":400},{"t":71.0,"p":150},{"t":71.3,"p":1420},{"t":71.45,"p":500},{"t":71.65,"p":300},{"t":71.9,"p":1000},{"t":72.1,"p":500},{"t":72.3,"p":800},{"t":72.45,"p":300},{"t":72.65,"p":500},{"t":72.85,"p":200},{"t":73.0,"p":400},{"t":73.2,"p":800},{"t":73.4,"p":1280},{"t":73.55,"p":600},{"t":73.7,"p":1550},{"t":73.9,"p":2810},{"t":74.05,"p":1280},{"t":74.25,"p":500},{"t":74.47,"p":1420},{"t":74.6,"p":600},{"t":74.75,"p":1000},{"t":74.9,"p":3170},{"t":75.03,"p":3080},{"t":75.23,"p":3830},{"t":75.35,"p":1000},{"t":75.5,"p":600},{"t":75.65,"p":1830},{"t":75.85,"p":400},{"t":76.0,"p":200},{"t":76.35,"p":1500},{"t":76.63,"p":2610},{"t":76.8,"p":600},{"t":77.0,"p":400},{"t":77.2,"p":1000},{"t":77.4,"p":2110},{"t":77.55,"p":2110},{"t":77.7,"p":1200},{"t":77.8,"p":2390},{"t":78.0,"p":1500},{"t":78.15,"p":2110},{"t":78.35,"p":1550},{"t":78.5,"p":800},{"t":78.65,"p":1000},{"t":78.85,"p":1610},{"t":79.0,"p":1200},{"t":79.15,"p":1610},{"t":79.3,"p":800},{"t":79.57,"p":3970},{"t":79.8,"p":2110},{"t":80.0,"p":600},{"t":80.15,"p":300},{"t":80.45,"p":200},{"t":80.75,"p":100},{"t":81.0,"p":300},{"t":81.2,"p":800},{"t":81.35,"p":200},{"t":81.55,"p":1000},{"t":81.7,"p":300},{"t":81.95,"p":400},{"t":82.15,"p":800},{"t":82.35,"p":300},{"t":82.6,"p":200},{"t":82.8,"p":400},{"t":83.0,"p":150},{"t":83.3,"p":1000},{"t":83.5,"p":1550},{"t":83.65,"p":500},{"t":83.87,"p":2390},{"t":84.0,"p":600},{"t":84.2,"p":300},{"t":84.45,"p":500},{"t":84.6,"p":700},{"t":84.8,"p":1000},{"t":85.0,"p":500},{"t":85.3,"p":3500},{"t":85.45,"p":600},{"t":85.6,"p":300},{"t":85.9,"p":100},{"t":86.05,"p":600},{"t":86.23,"p":2580},{"t":86.4,"p":600},{"t":86.6,"p":800},{"t":86.8,"p":1100},{"t":86.95,"p":1000},{"t":87.1,"p":1280},{"t":87.3,"p":600},{"t":87.5,"p":1000},{"t":87.73,"p":1780},{"t":87.9,"p":800},{"t":88.0,"p":1000},{"t":88.3,"p":400},{"t":88.5,"p":300},{"t":88.7,"p":500},{"t":89.0,"p":2860},{"t":89.2,"p":300},{"t":89.45,"p":500},{"t":89.65,"p":200},{"t":89.85,"p":400},{"t":90.05,"p":100},{"t":90.3,"p":800},{"t":90.5,"p":1000},{"t":90.8,"p":2250},{"t":90.95,"p":1500},{"t":91.13,"p":2940},{"t":91.3,"p":600},{"t":91.5,"p":800},{"t":91.7,"p":1000},{"t":91.85,"p":200},{"t":92.0,"p":400},{"t":92.27,"p":4750},{"t":92.4,"p":1000},{"t":92.55,"p":500},{"t":92.7,"p":1000},{"t":92.9,"p":800},{"t":93.05,"p":1200},{"t":93.23,"p":1970},{"t":93.35,"p":500},{"t":93.5,"p":800},{"t":93.75,"p":300},{"t":94.07,"p":2300},{"t":94.2,"p":2110},{"t":94.35,"p":400},{"t":94.6,"p":300},{"t":94.8,"p":500},{"t":95.0,"p":400},{"t":95.2,"p":600},{"t":95.4,"p":300},{"t":95.6,"p":700},{"t":95.8,"p":400},{"t":96.0,"p":900},{"t":96.2,"p":500},{"t":96.45,"p":300},{"t":96.6,"p":700},{"t":96.8,"p":1000},{"t":96.95,"p":2500},{"t":97.1,"p":4600},{"t":97.25,"p":800},{"t":97.4,"p":400},{"t":97.6,"p":200},{"t":97.8,"p":300},{"t":98.0,"p":150},{"t":98.2,"p":500},{"t":98.43,"p":8400},{"t":98.55,"p":1000},{"t":98.7,"p":1000},{"t":98.85,"p":2170},{"t":99.0,"p":1280},{"t":99.15,"p":800},{"t":99.3,"p":1420},{"t":99.5,"p":500},{"t":99.65,"p":300},{"t":99.8,"p":500},{"t":100,"p":400}
]
},
"vconcat": [
{
"width": 1000, "height": 120,
"title": "36 km/h energy harvesting power",
"data": {"name": "p36"},
"mark": {"type": "line", "color": "#0072BD", "strokeWidth": 2, "clip": true},
"encoding": {
"x": {"field": "t", "type": "quantitative", "scale": {"domain": [0, 100], "nice": false}, "axis": {"values": [0,10,20,30,40,50,60,70,80,90,100], "title": null}},
"y": {"field": "p", "type": "quantitative", "scale": {"domain": [0, 3000], "nice": false}, "axis": {"values": [0,1000,2000,3000], "format": ",d", "title": null}}
}
},
{
"width": 1000, "height": 120,
"title": "72 km/h energy harvesting power",
"data": {"name": "p72"},
"mark": {"type": "line", "color": "#0072BD", "strokeWidth": 2, "clip": true},
"encoding": {
"x": {"field": "t", "type": "quantitative", "scale": {"domain": [0, 100], "nice": false}, "axis": {"values": [0,10,20,30,40,50,60,70,80,90,100], "title": null}},
"y": {"field": "p", "type": "quantitative", "scale": {"domain": [0, 4000], "nice": false}, "axis": {"values": [0,2000,4000], "format": ",d", "title": null}}
}
},
{
"width": 1000, "height": 120,
"title": "108 km/h energy harvesting power",
"data": {"name": "p108"},
"mark": {"type": "line", "color": "#0072BD", "strokeWidth": 2, "clip": true},
"encoding": {
"x": {"field": "t", "type": "quantitative", "scale": {"domain": [0, 100], "nice": false}, "axis": {"values": [0,10,20,30,40,50,60,70,80,90,100], "title": "Time( s)", "titleFontSize": 19, "titlePadding": 2}},
"y": {"field": "p", "type": "quantitative", "scale": {"domain": [0, 10000], "nice": false}, "axis": {"values": [0,5000,10000], "format": ",d", "title": null}}
}
}
]
}
